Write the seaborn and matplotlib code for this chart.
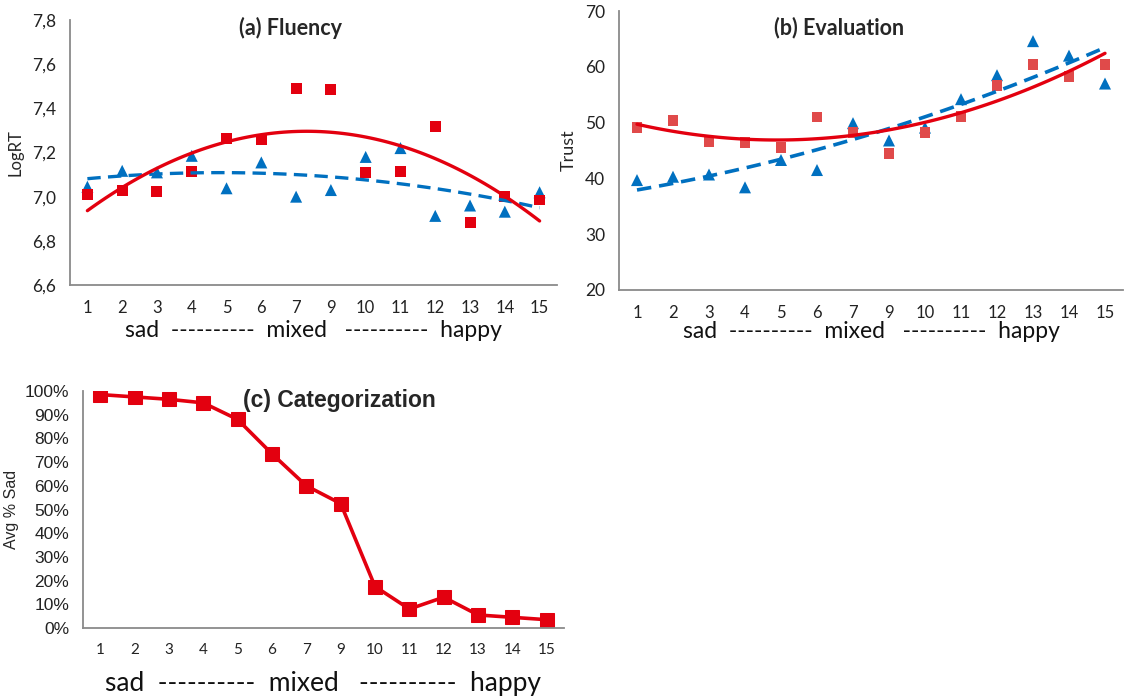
import numpy as np
import pandas as pd
import matplotlib
matplotlib.use("Agg")
import matplotlib.pyplot as plt
import seaborn as sns
from matplotlib.ticker import FuncFormatter, PercentFormatter

# ---------------- data ----------------
categories = ["1", "2", "3", "4", "5", "6", "7", "9", "10", "11", "12", "13", "14", "15"]
fluency_sq = [7.008, 7.030, 7.023, 7.113, 7.263, 7.259, 7.489, 7.484, 7.108, 7.116, 7.319, 6.884, 7.000, 6.985]
fluency_tri = [7.045, 7.117, 7.110, 7.185, 7.038, 7.155, 7.000, 7.030, 7.180, 7.220, 6.913, 6.960, 6.932, 7.020]
trust_sq = [49.2, 50.3, 46.6, 46.4, 45.5, 51.0, 48.2, 44.5, 48.3, 51.1, 56.7, 60.4, 58.2, 60.4]
trust_tri = [39.7, 40.3, 40.7, 38.4, 43.3, 41.5, 49.9, 46.8, 49.1, 54.2, 58.5, 64.6, 62.0, 57.0]
avg_sad = [0.985, 0.975, 0.965, 0.95, 0.88, 0.735, 0.60, 0.525, 0.175, 0.08, 0.13, 0.055, 0.045, 0.035]
scale_label = "sad  ----------  mixed   ----------  happy"

sns.set_style("white")
plt.rcParams["font.family"] = ["Lato", "DejaVu Sans"]

RED = "#E3000F"
RED_LIGHT = "#E04A4A"
BLUE = "#0070C0"
GRAY = "#8A8A8A"

pos = np.arange(len(categories))

fig = plt.figure(figsize=(11.24, 6.99), dpi=100)
W, H = 1124, 699


def add_ax(l, t, r, b):
    return fig.add_axes([l / W, 1 - b / H, (r - l) / W, (b - t) / H])


def style(ax, xfont, xlabel_size, xlabel_pad):
    for s in ["top", "right"]:
        ax.spines[s].set_visible(False)
    for s in ["left", "bottom"]:
        ax.spines[s].set_color(GRAY)
        ax.spines[s].set_linewidth(1.3)
    ax.set_xlim(-0.5, len(categories) - 0.5)
    ax.set_xticks(pos)
    ax.set_xticklabels(categories, fontsize=xfont, color="#222222")
    ax.set_xticks(np.arange(-0.5, len(categories), 1), minor=True)
    ax.tick_params(axis="x", which="major", length=0, pad=11)
    ax.tick_params(axis="x", which="minor", length=6, color=GRAY, width=1.3)
    ax.tick_params(axis="y", which="major", length=6, color=GRAY, width=1.3, pad=4)
    ax.grid(False)
    ax.set_xlabel(scale_label, fontsize=xlabel_size, labelpad=xlabel_pad, color="#111111")


# ---------------- (a) Fluency ----------------
ax_a = add_ax(70, 20, 557, 285)
df_a = pd.DataFrame({"pos": pos, "sq": fluency_sq, "tri": fluency_tri})
sns.scatterplot(data=df_a, x="pos", y="tri", marker="^", s=75, color=BLUE,
                edgecolor="none", ax=ax_a, zorder=3)
sns.scatterplot(data=df_a, x="pos", y="sq", marker="s", s=62, color=RED,
                edgecolor="none", ax=ax_a, zorder=3)
sns.regplot(data=df_a, x="pos", y="tri", order=2, ci=None, scatter=False, ax=ax_a,
            line_kws=dict(color=BLUE, lw=2.4, ls=(0, (4, 2.2)), zorder=4))
sns.regplot(data=df_a, x="pos", y="sq", order=2, ci=None, scatter=False, ax=ax_a,
            line_kws=dict(color=RED, lw=2.4, zorder=4))
ax_a.set_ylim(6.6, 7.8)
ax_a.set_yticks(np.arange(6.6, 7.81, 0.2))
ax_a.yaxis.set_major_formatter(FuncFormatter(lambda v, p: f"{v:.1f}".replace(".", ",")))
ax_a.tick_params(axis="y", labelsize=12.5, labelcolor="#222222")
style(ax_a, 12, 16.5, 3)
ax_a.set_ylabel("LogRT", fontsize=12, labelpad=6)
ax_a.text(0.453, 0.97, "(a) Fluency", transform=ax_a.transAxes, ha="center",
          va="center", fontsize=15.5, fontweight="bold")

# ---------------- (b) Evaluation ----------------
ax_b = add_ax(619, 11, 1123, 290)
df_b = pd.DataFrame({"pos": pos, "sq": trust_sq, "tri": trust_tri})
sns.scatterplot(data=df_b, x="pos", y="tri", marker="^", s=75, color=BLUE,
                edgecolor="none", ax=ax_b, zorder=3)
sns.scatterplot(data=df_b, x="pos", y="sq", marker="s", s=62, color=RED_LIGHT,
                edgecolor="none", ax=ax_b, zorder=3)
sns.regplot(data=df_b, x="pos", y="tri", order=2, ci=None, scatter=False, ax=ax_b,
            line_kws=dict(color=BLUE, lw=2.6, ls=(0, (4, 2.2)), zorder=4))
sns.regplot(data=df_b, x="pos", y="sq", order=2, ci=None, scatter=False, ax=ax_b,
            line_kws=dict(color=RED, lw=2.4, zorder=4))
ax_b.set_ylim(20, 70)
ax_b.set_yticks(np.arange(20, 71, 10))
ax_b.tick_params(axis="y", labelsize=12.5, labelcolor="#222222")
style(ax_b, 12, 16.5, 0)
ax_b.set_ylabel("Trust", fontsize=13, labelpad=6)
ax_b.text(0.437, 0.94, "(b) Evaluation", transform=ax_b.transAxes, ha="center",
          va="center", fontsize=15.5, fontweight="bold")

# ---------------- (c) Categorization ----------------
ax_c = add_ax(83, 391, 564, 628)
df_c = pd.DataFrame({"pos": pos, "sad": avg_sad})
sns.lineplot(data=df_c, x="pos", y="sad", marker="s", markersize=10, color=RED,
             lw=2.6, markeredgecolor=RED, ax=ax_c)
ax_c.set_ylim(0, 1.0)
ax_c.set_yticks(np.arange(0, 1.01, 0.1))
ax_c.yaxis.set_major_formatter(PercentFormatter(1.0, decimals=0))
for lab in ax_c.get_yticklabels():
    lab.set_family(["Liberation Sans", "DejaVu Sans"])
ax_c.tick_params(axis="y", labelsize=12.5, labelcolor="#222222")
style(ax_c, 11, 19, 10)
ax_c.set_ylabel("Avg % Sad", fontsize=11.5, labelpad=4,
                family=["Liberation Sans", "DejaVu Sans"])
ax_c.text(0.533, 0.958, "(c) Categorization", transform=ax_c.transAxes, ha="center",
          va="center", fontsize=16.5, fontweight="bold",
          family=["Liberation Sans", "DejaVu Sans"])

fig.savefig("out.png", dpi=100)
